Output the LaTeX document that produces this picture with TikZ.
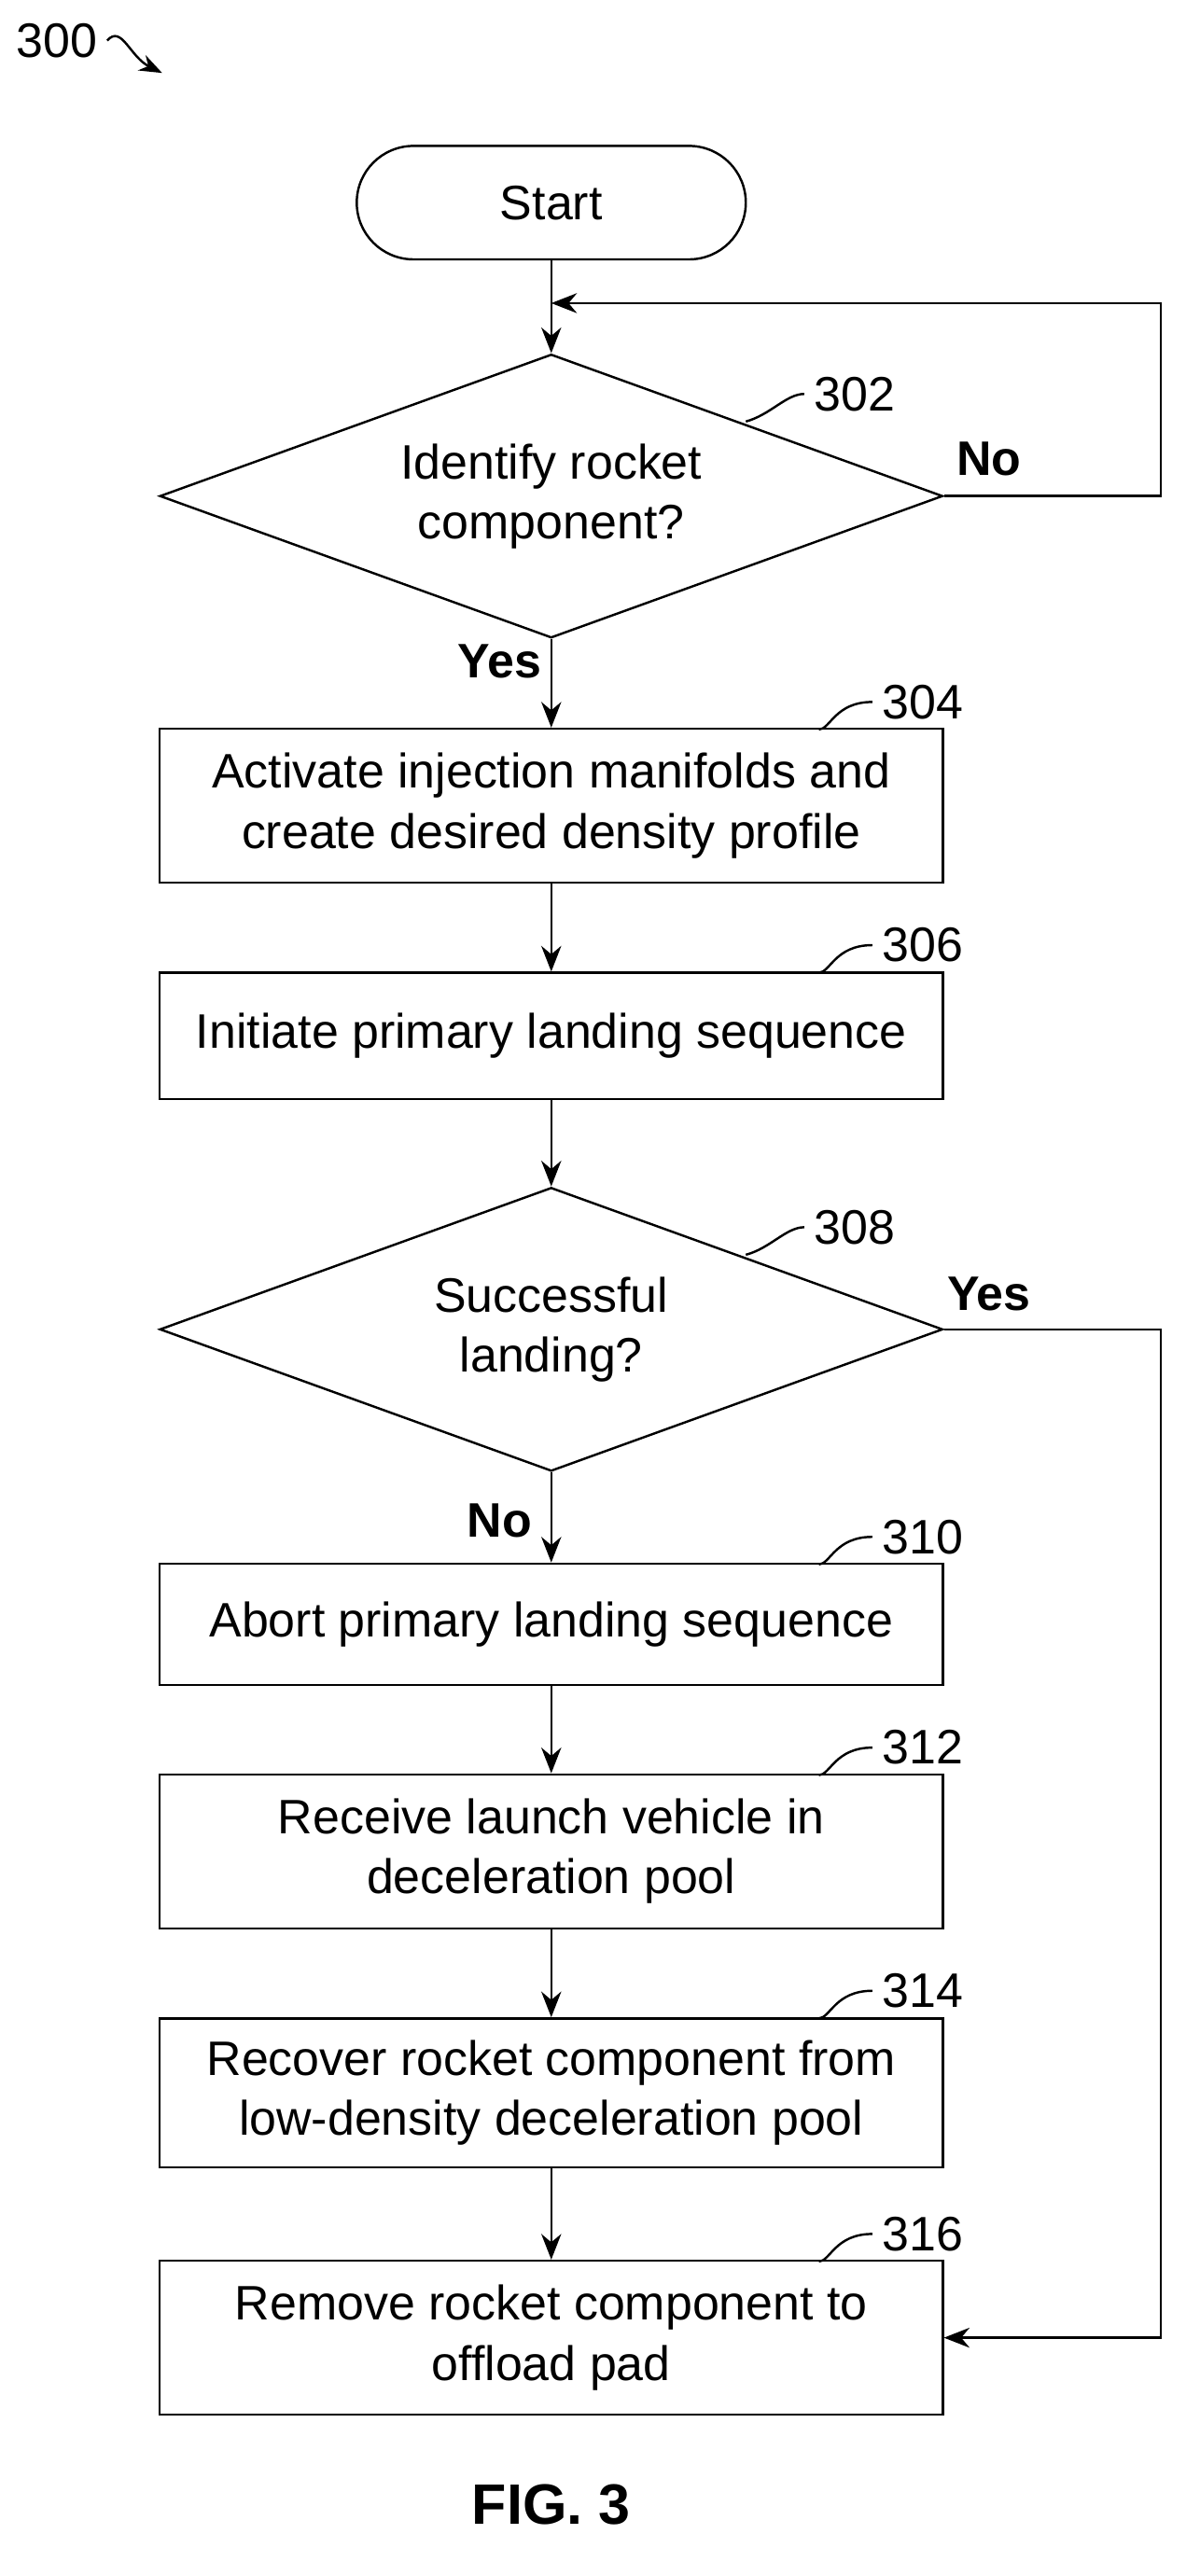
\documentclass[tikz,border=0pt]{standalone}
\usepackage{fontspec}
\setmainfont{Liberation Sans}
\usetikzlibrary{shapes.geometric,arrows.meta}
\tikzset{
  box/.style={draw, thick, minimum width=9.66cm, align=center, font=\fontsize{17}{21}\selectfont},
  decision/.style={draw, thick, diamond, aspect=2.76, minimum width=9.66cm, minimum height=3.5cm, inner sep=0pt, align=center, font=\fontsize{17}{21}\selectfont},
  flow/.style={thick, -{Stealth[length=9pt,width=7pt]}},
  tag/.style={font=\fontsize{17}{21}\selectfont},
  yn/.style={font=\bfseries\fontsize{17}{21}\selectfont}
}
\begin{document}
\begin{tikzpicture}[x=0.02cm, y=-0.02cm]
  \useasboundingbox (0,0) rectangle (740,1589);

  % figure tag
  \node[tag] (ref) at (35,25) {300};
  \coordinate (refend) at (100,45);
  \draw[thick, -{Stealth[length=8pt]}] (ref.east) .. controls (75,15) and (80,35) .. (refend);

  \node[draw, thick, rounded corners=0.7cm, minimum width=4.8cm, minimum height=1.4cm, font=\fontsize{17}{21}\selectfont] (start) at (340,125) {Start};
  \node[decision] (d302) at (340,306) {Identify rocket\\component?};
  \node[box, minimum height=1.9cm] (b304) at (340,497) {Activate injection manifolds and\\create desired density profile};
  \node[box, minimum height=1.56cm] (b306) at (340,639) {Initiate primary landing sequence};
  \node[decision] (d308) at (340,820) {Successful\\landing?};
  \node[box, minimum height=1.5cm] (b310) at (340,1002) {Abort primary landing sequence};
  \node[box, minimum height=1.9cm] (b312) at (340,1142) {Receive launch vehicle in\\deceleration pool};
  \node[box, minimum height=1.84cm] (b314) at (340,1291) {Recover rocket component from\\low-density deceleration pool};
  \node[box, minimum height=1.9cm] (b316) at (340,1442) {Remove rocket component to\\offload pad};
  \node[font=\bfseries\fontsize{20}{24}\selectfont] (fig) at (340,1545) {FIG. 3};

  % connectors
  \coordinate (loopin) at (340,187);
  \draw[thick] (start) -- (loopin);
  \draw[flow] (loopin) -- (d302.north);
  \draw[flow] (d302.east) -- (716,306) |- (loopin);
  \draw[flow] (d302.south) -- (b304);
  \draw[flow] (b304) -- (b306);
  \draw[flow] (b306) -- (d308.north);
  \draw[flow] (d308.south) -- (b310);
  \draw[flow] (b310) -- (b312);
  \draw[flow] (b312) -- (b314);
  \draw[flow] (b314) -- (b316);
  \draw[flow] (d308.east) -- (716,820) |- (b316.east);

  \node[yn] (no302) at (610,283) {No};
  \node[yn] (yes302) at (308,408) {Yes};
  \node[yn] (yes308) at (610,798) {Yes};
  \node[yn] (no308) at (308,938) {No};

  % reference numerals
  \foreach \n/\x/\y in {302/460/260, 308/460/774} {
    \node[tag, anchor=west] (t\n) at (\x+36,\y-17) {\n};
    \draw[thick] (\x,\y) .. controls (\x+15,\y-4) and (\x+25,\y-17) .. (t\n.west);
  }
  \foreach \n/\y in {304/450, 306/600, 310/965, 312/1095, 314/1245, 316/1395} {
    \node[tag, anchor=west] (t\n) at (538,\y-17) {\n};
    \draw[thick] (505,\y) .. controls (512,\y) and (515,\y-17) .. (t\n.west);
  }
\end{tikzpicture}
\end{document}
